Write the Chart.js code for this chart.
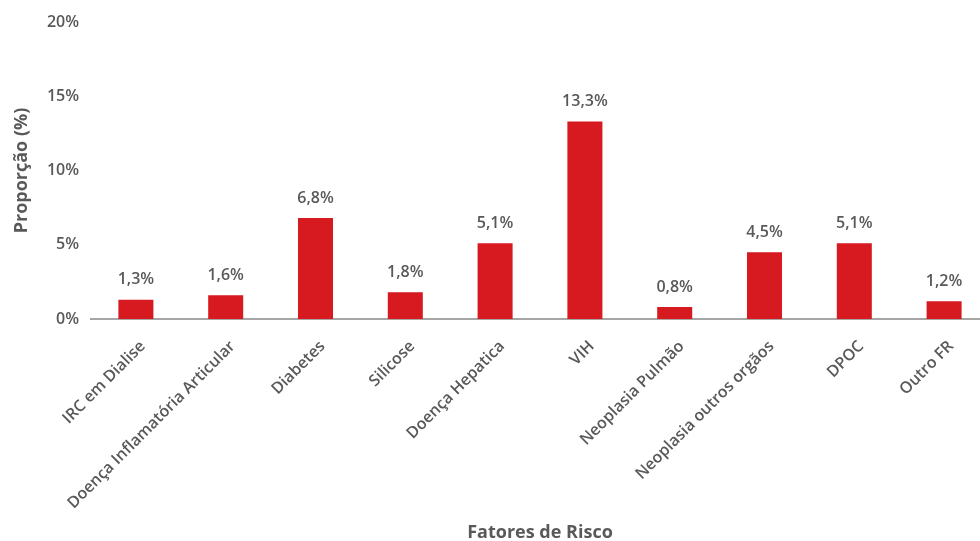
<!DOCTYPE html>
<html>
<head>
<meta charset="utf-8">
<script src="https://cdn.jsdelivr.net/npm/chart.js@4.4.1/dist/chart.umd.min.js"></script>
<style>
html,body{margin:0;padding:0;overflow:hidden;background:#fff;}
#wrap{width:989px;height:541px;position:relative;}
</style>
</head>
<body>
<div id="wrap"><canvas id="c"></canvas></div>
<script>
const categories = ["IRC em Dialise","Doença Inflamatória Articular","Diabetes","Silicose","Doença Hepatica","VIH","Neoplasia Pulmão","Neoplasia outros orgãos","DPOC","Outro FR"];
const values = [1.3, 1.6, 6.8, 1.8, 5.1, 13.3, 0.8, 4.5, 5.1, 1.2];
const yTicks = [0, 5, 10, 15, 20];
const yTitle = "Proporção (%)";
const xTitle = "Fatores de Risco";

const grey = '#595959';
const fam = '"Open Sans", sans-serif';

const valueLabels = {
  id: 'valueLabels',
  afterDatasetsDraw(chart) {
    const ctx = chart.ctx;
    const meta = chart.getDatasetMeta(0);
    ctx.save();
    ctx.font = '600 16px ' + fam;
    ctx.fillStyle = grey;
    ctx.textAlign = 'center';
    ctx.textBaseline = 'bottom';
    meta.data.forEach((bar, i) => {
      const t = values[i].toFixed(1).replace('.', ',') + '%';
      ctx.fillText(t, bar.x, bar.y - 12);
    });
    ctx.restore();
  }
};

new Chart(document.getElementById('c'), {
  type: 'bar',
  data: {
    labels: categories,
    datasets: [{
      data: values,
      backgroundColor: '#D71920',
      barPercentage: 0.39,
      categoryPercentage: 1.0
    }]
  },
  options: {
    responsive: true,
    maintainAspectRatio: false,
    animation: false,
    devicePixelRatio: 1,
    layout: { padding: { top: 22, right: 0, left: 0, bottom: 0 } },
    plugins: { legend: { display: false }, tooltip: { enabled: false } },
    scales: {
      x: {
        grid: { display: false, drawTicks: false },
        border: { display: true, color: '#A6A6A6', width: 2 },
        ticks: {
          color: grey,
          font: { family: fam, size: 16, weight: '600' },
          minRotation: 45, maxRotation: 45,
          autoSkip: false,
          padding: 18,
          labelOffset: 7
        },
        title: {
          display: true, text: xTitle, color: grey,
          font: { family: fam, size: 18, weight: 'bold' },
          padding: { top: 0, bottom: -3 }
        },
        afterFit(scale) { scale.height = 222; }
      },
      y: {
        min: 0, max: 20,
        afterBuildTicks(scale) { scale.ticks = yTicks.map(v => ({ value: v })); },
        grid: { display: false, drawTicks: false },
        border: { display: false },
        ticks: {
          color: grey,
          font: { family: fam, size: 16, weight: '600' },
          padding: 12,
          callback: v => v + '%'
        },
        title: {
          display: true, text: yTitle, color: grey,
          font: { family: fam, size: 18, weight: 'bold' },
          padding: { top: 11, bottom: 0 }
        },
        afterFit(scale) { scale.width = 91; }
      }
    }
  },
  plugins: [valueLabels]
});
</script>
</body>
</html>
